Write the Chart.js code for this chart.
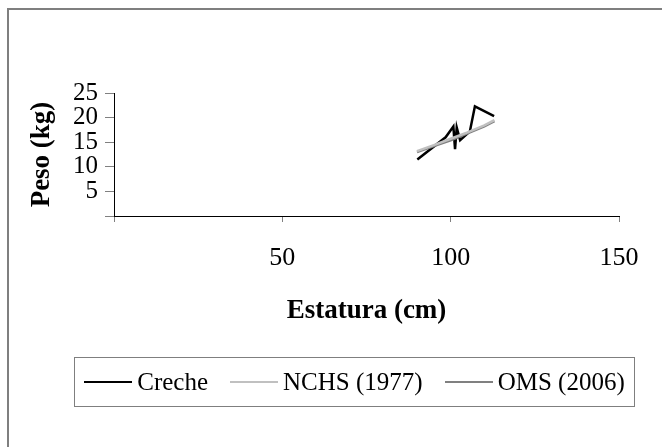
<!DOCTYPE html>
<html>
<head>
<meta charset="utf-8">
<script src="https://cdn.jsdelivr.net/npm/chart.js@4/dist/chart.umd.min.js"></script>
<style>
  html, body { margin: 0; padding: 0; background: #fff; }
  #wrap { position: relative; width: 662px; height: 447px; overflow: hidden; }
  #frame {
    position: absolute; left: 7px; top: 8px; width: 700px; height: 500px;
    border: 2px solid #7f7f7f; box-sizing: border-box;
  }
  #canvasBox { position: absolute; left: 0; top: 0; width: 662px; height: 447px; }
  #legend {
    position: absolute; left: 74px; top: 357px; width: 561px; height: 50px;
    border: 1.5px solid #7f7f7f; box-sizing: border-box;
    display: flex; align-items: center; justify-content: center;
    font-family: "Liberation Serif", "Times New Roman", serif; font-size: 25px; color: #000;
    white-space: nowrap;
  }
  .item { display: flex; align-items: center; flex-shrink: 0; margin: 0 11px; }
  .swatch { width: 48px; margin-right: 5px; flex-shrink: 0; }
</style>
</head>
<body>
<div id="wrap">
  <div id="frame"></div>
  <div id="canvasBox"><canvas id="lineChart"></canvas></div>
  <div id="legend"></div>
</div>
<script>
const crecheHeight = [90.1, 98.5, 100.8, 101.3, 101.8, 102.8, 105.7, 107.2, 112.9];
const crecheWeight = [11.5, 16.0, 18.2, 13.6, 18.0, 15.4, 17.2, 22.3, 20.3];

const nchsHeight = [90, 95, 100, 105, 110, 113];
const nchsWeight = [13.2, 14.4, 15.7, 17.0, 18.4, 19.5];

const omsHeight = [90, 95, 100, 105, 110, 113];
const omsWeight = [13.0, 14.2, 15.4, 16.8, 18.2, 19.3];

const seriesNames = ["Creche", "NCHS (1977)", "OMS (2006)"];
const xTicks = [0, 50, 100, 150];
const yTicks = [0, 5, 10, 15, 20, 25];

const serif = "'Liberation Serif', 'Times New Roman', serif";

function toPoints(xs, ys) {
  return xs.map((x, i) => ({ x, y: ys[i] }));
}

const ctx = document.getElementById("lineChart").getContext("2d");

const lineChart = new Chart(ctx, {
  type: "line",
  data: {
    datasets: [
      {
        label: seriesNames[0],
        data: toPoints(crecheHeight, crecheWeight),
        borderColor: "#000000",
        borderWidth: 2.5,
        order: 3,
      },
      {
        label: seriesNames[1],
        data: toPoints(nchsHeight, nchsWeight),
        borderColor: "#c0c0c0",
        borderWidth: 2.5,
        order: 1,
      },
      {
        label: seriesNames[2],
        data: toPoints(omsHeight, omsWeight),
        borderColor: "#808080",
        borderWidth: 2.5,
        order: 2,
      },
    ],
  },
  options: {
    responsive: true,
    maintainAspectRatio: false,
    animation: false,
    elements: {
      point: { radius: 0 },
      line: { tension: 0, fill: false },
    },
    layout: {
      padding: { left: 26, top: 93, right: 43, bottom: 116 },
    },
    plugins: {
      legend: { display: false },
      tooltip: { enabled: false },
    },
    scales: {
      x: {
        type: "linear",
        min: 0,
        max: 150,
        afterFit: (scale) => { scale.height = 115; },
        afterBuildTicks: (scale) => { scale.ticks = xTicks.map((v) => ({ value: v })); },
        border: { display: true, color: "#000", width: 1 },
        grid: { drawOnChartArea: false, drawTicks: true, tickLength: 6, tickColor: "#808080" },
        ticks: {
          color: "#000",
          padding: 21,
          maxRotation: 0,
          autoSkip: false,
          font: { family: serif, size: 26 },
          callback: (v) => (v === 0 ? "" : v),
        },
        title: {
          display: true,
          text: "Estatura (cm)",
          color: "#000",
          padding: { top: 0, bottom: 4 },
          font: { family: serif, size: 27, weight: "bold" },
        },
      },
      y: {
        min: 0,
        max: 25,
        afterFit: (scale) => { scale.width = 88; },
        afterBuildTicks: (scale) => { scale.ticks = yTicks.map((v) => ({ value: v })); },
        border: { display: true, color: "#000", width: 1 },
        grid: { drawOnChartArea: false, drawTicks: true, tickLength: 9, tickColor: "#808080" },
        ticks: {
          color: "#000",
          padding: 7,
          autoSkip: false,
          font: { family: serif, size: 25 },
          callback: (v) => (v === 0 ? "" : v),
        },
        title: {
          display: true,
          text: "Peso (kg)",
          color: "#000",
          padding: { top: 0, bottom: 6 },
          font: { family: serif, size: 27, weight: "bold" },
        },
      },
    },
  },
});

// legend box built from the chart's own datasets
const legendBox = document.getElementById("legend");
lineChart.data.datasets.forEach((ds) => {
  const item = document.createElement("div");
  item.className = "item";
  const swatch = document.createElement("div");
  swatch.className = "swatch";
  swatch.style.borderTop = `${ds.borderWidth}px solid ${ds.borderColor}`;
  const text = document.createElement("span");
  text.textContent = ds.label;
  item.appendChild(swatch);
  item.appendChild(text);
  legendBox.appendChild(item);
});
</script>
</body>
</html>
